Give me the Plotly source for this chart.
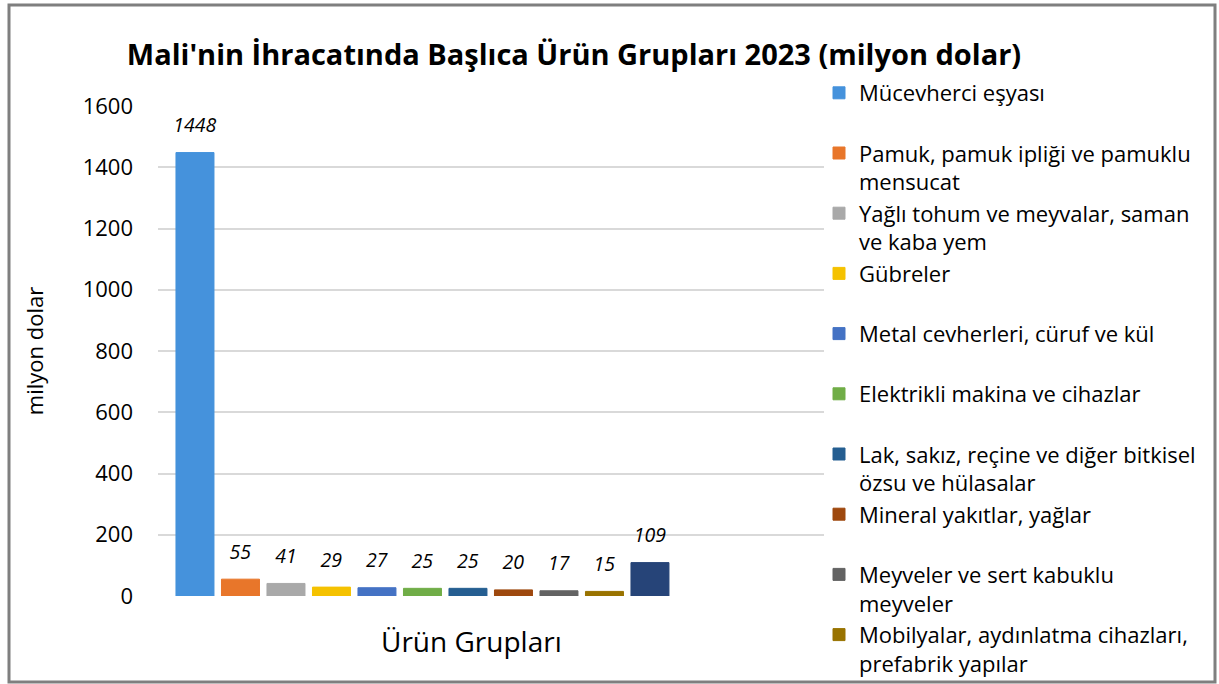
import plotly.graph_objects as go

# ---- data ----
category = "Ürün Grupları"
groups = [
    "Mücevherci eşyası",
    "Pamuk, pamuk ipliği ve pamuklu<br>mensucat",
    "Yağlı tohum ve meyvalar, saman<br>ve kaba yem",
    "Gübreler",
    "Metal cevherleri, cüruf ve kül",
    "Elektrikli makina ve cihazlar",
    "Lak, sakız, reçine ve diğer bitkisel<br>özsu ve hülasalar",
    "Mineral yakıtlar, yağlar",
    "Meyveler ve sert kabuklu<br>meyveler",
    "Mobilyalar, aydınlatma cihazları,<br>prefabrik yapılar",
    "Diğer",
]
values = [1448, 55, 41, 29, 27, 25, 25, 20, 17, 15, 109]
colors = ["#4592DC", "#E8762A", "#A9A9A9", "#F5C200", "#4472C4", "#70AD47",
          "#255E91", "#9E480E", "#636363", "#997300", "#264478"]
in_legend = [True] * 10 + [False]
y_ticks = [0, 200, 400, 600, 800, 1000, 1200, 1400, 1600]

FONT = "Open Sans"
W, H = 1219, 684
L, R, T, B = 158, 395, 106, 88
pw, ph = W - L - R, H - T - B

def px_x(p):
    return (p - L) / pw

def px_y(p):
    return (H - B - p) / ph

fig = go.Figure()
for name, v, c, show in zip(groups, values, colors, in_legend):
    label = name if "<br>" in name else name + "<br>\u00a0"
    fig.add_trace(go.Bar(
        x=[category], y=[v], name=label, legendgroup=name, showlegend=show,
        marker=dict(color=c, line=dict(color=c, width=1)),
        text=[v],
        texttemplate="<span style='font-size:19.5px;font-style:italic'>%{text}</span>"
                     "<br><span style='font-size:6px;fill-opacity:0'>.</span>",
        textposition="outside", constraintext="none", cliponaxis=False,
        textfont=dict(family=FONT, size=12, color="#000000"),
        hoverinfo="skip",
    ))

fig.update_layout(
    width=W, height=H,
    margin=dict(l=L, r=R, t=T, b=B),
    paper_bgcolor="white", plot_bgcolor="white",
    barmode="group", bargap=0.2485, bargroupgap=0.165,
    font=dict(family=FONT, color="#000000"),
    title=dict(text="<b>Mali'nin İhracatında Başlıca Ürün Grupları 2023 (milyon dolar)</b>",
               x=574 / W, xref="container", xanchor="center",
               y=1 - 55 / H, yref="container", yanchor="middle",
               font=dict(family=FONT, size=29, color="#000000")),
    xaxis=dict(type="category", range=[-0.3971, 0.6029], showticklabels=False,
               showgrid=False, zeroline=False, showline=False, ticks=""),
    yaxis=dict(range=[0, 1600], tickvals=y_ticks, showgrid=True, gridcolor="#D9D9D9",
               gridwidth=1.5, zeroline=False, showline=False, ticks="",
               ticklabelstandoff=24,
               tickfont=dict(family=FONT, size=22, color="#000000"),
               title=dict(text="milyon dolar", font=dict(family=FONT, size=22, color="#000000"),
                          standoff=32)),
    legend=dict(x=px_x(819), xanchor="left", y=px_y(76), yanchor="top",
                font=dict(family=FONT, size=22, color="#000000"),
                valign="top", tracegroupgap=0, bgcolor="rgba(0,0,0,0)",
                maxheight=1000, itemclick=False, itemdoubleclick=False),
    showlegend=True,
    annotations=[dict(text=category, xref="paper", yref="paper",
                      x=px_x(471), y=px_y(641), xanchor="center", yanchor="middle",
                      showarrow=False, font=dict(family=FONT, size=28, color="#000000"))],
    shapes=[dict(type="rect", xref="paper", yref="paper",
                 x0=px_x(9), x1=px_x(1215), y0=px_y(682), y1=px_y(5),
                 line=dict(color="#7F7F7F", width=3), fillcolor="rgba(0,0,0,0)", layer="below")],
)

fig.write_html("out.html", config={"displayModeBar": False},
               post_script="document.body.style.margin='0';")
